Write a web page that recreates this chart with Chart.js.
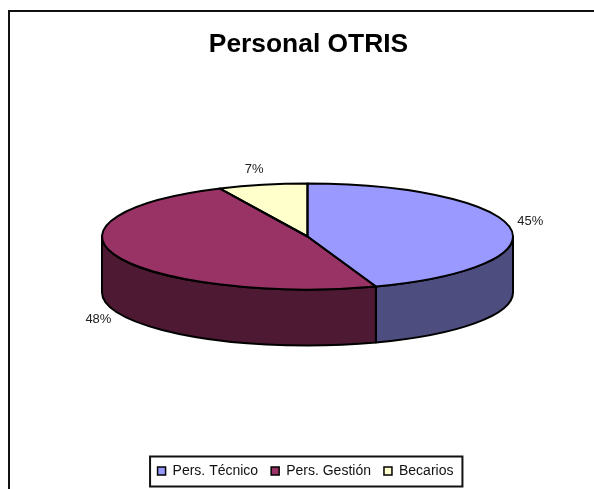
<!DOCTYPE html>
<html><head><meta charset="utf-8">
<style>html,body{margin:0;padding:0;background:#fff}canvas{display:block}</style>
<script src="https://cdn.jsdelivr.net/npm/chart.js@4/dist/chart.umd.min.js"></script>
</head><body>
<canvas id="c" width="594" height="489"></canvas>
<script>
const titleText = "Personal OTRIS";
const categories = ["Pers. Técnico", "Pers. Gestión", "Becarios"];
const shares = [44.6, 48.4, 7.0];
const faceColors = ["#9999FF", "#993366", "#FFFFCC"];
const wallColors = ["#4D4D80", "#4D1933", "#80806A"];

const RX = 205.5, RY = 53, DEPTH = 56, CX = 307.5, CY = 236.5;
const INK = "#000", STROKE = 2;

function frontSpan(a0, a1) {
  const s = Math.max(a0, 0), e = Math.min(a1, Math.PI);
  return e > s ? [s, e] : null;
}
const pie3d = {
  id: "pie3d",
  afterLayout(chart) {
    const l = chart.legend;
    l.left -= 3; l.right -= 3;
    l.legendHitBoxes.forEach(h => { h.left -= 3; });
  },
  beforeDraw(chart) {
    const ctx = chart.ctx;
    ctx.save();
    ctx.fillStyle = "#fff";
    ctx.fillRect(0, 0, chart.width, chart.height);
    ctx.strokeStyle = "#111";
    ctx.lineWidth = 2;
    ctx.strokeRect(9, 11, 640, 520);
    ctx.restore();
  },
  beforeDatasetsDraw(chart) {
    const ctx = chart.ctx, arcs = chart.getDatasetMeta(0).data;
    ctx.save();
    ctx.lineWidth = STROKE; ctx.strokeStyle = INK; ctx.lineJoin = "round";
    arcs.forEach((arc, i) => {
      const span = frontSpan(arc.startAngle, arc.endAngle);
      if (!span) return;
      ctx.beginPath();
      ctx.ellipse(CX, CY, RX, RY, 0, span[0], span[1]);
      ctx.ellipse(CX, CY + DEPTH, RX, RY, 0, span[1], span[0], true);
      ctx.closePath();
      ctx.fillStyle = wallColors[i];
      ctx.fill();
      ctx.stroke();
    });
    ctx.restore();
    const a = arcs[0];
    ctx.save();
    ctx.translate(CX, CY);
    ctx.scale(RX / a.outerRadius, RY / a.outerRadius);
    ctx.translate(-a.x, -a.y);
  },
  afterDatasetsDraw(chart) {
    const ctx = chart.ctx, arcs = chart.getDatasetMeta(0).data;
    ctx.restore();
    ctx.save();
    ctx.lineWidth = STROKE; ctx.strokeStyle = INK; ctx.lineJoin = "round";
    arcs.forEach(arc => {
      ctx.beginPath();
      ctx.moveTo(CX, CY);
      ctx.ellipse(CX, CY, RX, RY, 0, arc.startAngle, arc.endAngle);
      ctx.closePath();
      ctx.stroke();
    });
    ctx.fillStyle = "#222";
    ctx.font = "13px 'Liberation Sans', Arial, sans-serif";
    ctx.textAlign = "center"; ctx.textBaseline = "middle";
    const total = shares.reduce((s, v) => s + v, 0);
    arcs.forEach((arc, i) => {
      const mid = (arc.startAngle + arc.endAngle) / 2;
      const small = shares[i] / total < 0.1;
      const x = CX + Math.cos(mid) * RX * 1.1 - (small ? 4 : 0);
      let y = CY + Math.sin(mid) * RY * 1.3;
      if (Math.sin(mid) > 0) y += DEPTH + 1; else if (!small) y -= 3;
      ctx.fillText(Math.round(shares[i] / total * 100) + "%", x, y);
    });
    ctx.restore();
  },
  afterDraw(chart) {
    const l = chart.legend, ctx = chart.ctx, b = l.legendHitBoxes;
    const left = b[0].left - 7.5, right = b[b.length - 1].left + b[b.length - 1].width + 9;
    const top = b[0].top - 7.5, bottom = b[0].top + b[0].height + 8.5;
    ctx.save();
    ctx.strokeStyle = "#111"; ctx.lineWidth = 2;
    ctx.strokeRect(left, top, right - left, bottom - top);
    ctx.restore();
  }
};

new Chart(document.getElementById("c"), {
  type: "pie",
  data: {
    labels: categories,
    datasets: [{
      data: shares,
      backgroundColor: faceColors,
      borderWidth: 0,
      clip: false,
      radius: RX
    }]
  },
  options: {
    responsive: false,
    animation: false,
    layout: { padding: { left: 23, right: 0, top: 29, bottom: 1 } },
    plugins: {
      tooltip: { enabled: false },
      title: {
        display: true, text: titleText, color: "#000",
        font: { family: "'Liberation Sans', Arial, sans-serif", size: 26.4, weight: "bold" },
        padding: { top: 0, bottom: 10 }
      },
      legend: {
        display: true, position: "bottom",
        labels: {
          boxWidth: 8, boxHeight: 8, padding: 13, color: "#111",
          font: { family: "'Liberation Sans', Arial, sans-serif", size: 14 },
          generateLabels() {
            return categories.map((t, i) => ({
              text: t, fillStyle: faceColors[i], strokeStyle: INK, lineWidth: 1.5,
              fontColor: "#111", index: i, hidden: false
            }));
          }
        }
      }
    }
  },
  plugins: [pie3d]
});
</script>
</body></html>
